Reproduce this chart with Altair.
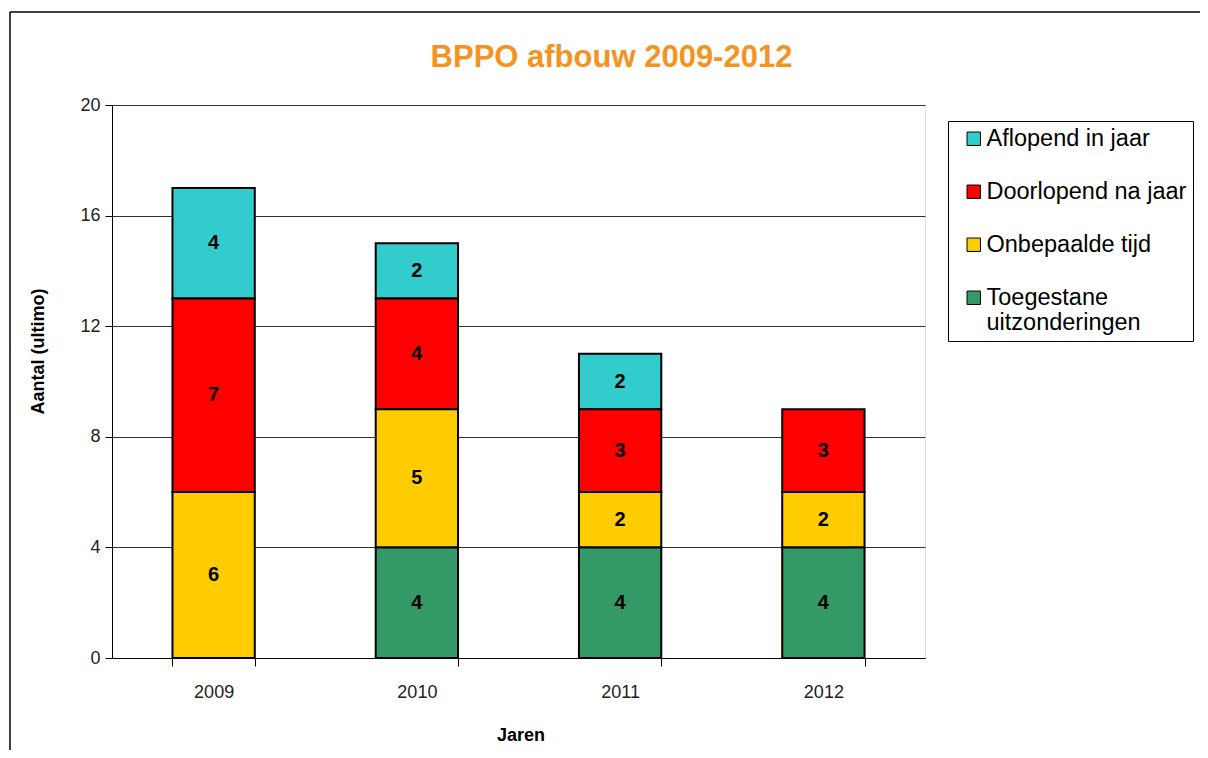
import altair as alt
import pandas as pd

years = ["2009", "2010", "2011", "2012"]
categories = ["Aflopend in jaar", "Doorlopend na jaar", "Onbepaalde tijd", "Toegestane uitzonderingen"]
aflopend = [4, 2, 2, 0]
doorlopend = [7, 4, 3, 3]
onbepaald = [6, 5, 2, 2]
toegestaan = [0, 4, 4, 4]
colors = ["#33CCCC", "#FF0000", "#FFCC00", "#339966"]
stack_rank = [4, 3, 2, 1]

rows = []
for cat, vals, rank in zip(categories, [aflopend, doorlopend, onbepaald, toegestaan], stack_rank):
    for yr, v in zip(years, vals):
        rows.append({"Jaar": yr, "Categorie": cat, "Aantal": v, "rank": rank})
df = pd.DataFrame(rows)

FONT = "Liberation Sans"
W, H = 813, 553

base = alt.Chart(df).transform_filter("datum.Aantal > 0")

x_enc = alt.X("Jaar:N", sort=years,
              scale=alt.Scale(paddingInner=0.595, paddingOuter=0.2975),
              axis=alt.Axis(title="Jaren", labelAngle=0, labelFontSize=18, labelFont=FONT,
                            labelColor="#222", labelPadding=17, tickSize=8, tickBand="extent",
                            tickColor="black", domainColor="black", titleFont=FONT,
                            titleFontSize=18, titleFontWeight="bold", titleColor="black",
                            titleX=W / 2 + 2, titleY=77, titleBaseline="middle", titleAlign="center"))

bars = base.mark_bar(stroke="black", strokeWidth=2).encode(
    x=x_enc,
    y=alt.Y("sum(Aantal):Q", stack="zero",
            scale=alt.Scale(domain=[0, 20]),
            axis=alt.Axis(title="Aantal (ultimo)", values=[0, 4, 8, 12, 16, 20],
                          labelFontSize=18, labelFont=FONT, labelColor="#222",
                          labelPadding=5, tickSize=7, tickColor="black", domainColor="black",
                          gridColor="#333", gridWidth=1,
                          titleFont=FONT, titleFontSize=18, titleFontWeight="bold",
                          titleColor="black", titleAngle=-90, titleX=-74, titleY=246,
                          titleBaseline="middle", titleAlign="center")),
    color=alt.Color("Categorie:N",
                    scale=alt.Scale(domain=categories, range=colors),
                    legend=alt.Legend(title=None, orient="none", legendX=836, legendY=16,
                                      symbolType="square", symbolSize=180,
                                      symbolStrokeColor="black", symbolStrokeWidth=1,
                                      symbolOffset=8,
                                      labelFont=FONT, labelFontSize=23.5, labelColor="black",
                                      labelLimit=400, labelOffset=1, rowPadding=28, padding=6,
                                      strokeColor="black", fillColor="white",
                                      labelExpr="split(datum.label == 'Toegestane uitzonderingen' ? 'Toegestane\\nuitzonderingen' : datum.label, '\\n')")),
    order=alt.Order("rank:Q"),
)

labels = base.transform_stack(
    stack="Aantal", as_=["y0", "y1"], groupby=["Jaar"], sort=[alt.SortField("rank")]
).transform_calculate(mid="(datum.y0 + datum.y1) / 2").mark_text(
    font=FONT, fontSize=20, fontWeight="bold", color="black", baseline="middle"
).encode(
    x=alt.X("Jaar:N", sort=years),
    y=alt.Y("mid:Q"),
    text=alt.Text("Aantal:Q"),
)

border_df = pd.DataFrame({"k": [1]})
border_v = alt.Chart(border_df).mark_rule(color="black", strokeWidth=1.5).encode(
    x=alt.value(-102), y=alt.value(-93), y2=alt.value(660))
border_h = alt.Chart(border_df).mark_rule(color="black", strokeWidth=1.5).encode(
    x=alt.value(-102), x2=alt.value(1100), y=alt.value(-93))

chart = alt.layer(bars, labels, border_v, border_h).properties(
    width=W, height=H,
    title=alt.TitleParams("BPPO afbouw 2009-2012", color="#F39322", font=FONT, fontSize=31,
                          fontWeight="bold", anchor="middle", dx=93, offset=-63),
    autosize=alt.AutoSizeParams(type="none"),
    padding={"left": 104, "top": 97, "right": 1192 - 104 - W, "bottom": 742 - 97 - H},
).configure_view(stroke="#999999", strokeWidth=1).configure(background="white")

chart.save("out.html", embed_options={"renderer": "svg", "actions": False})
